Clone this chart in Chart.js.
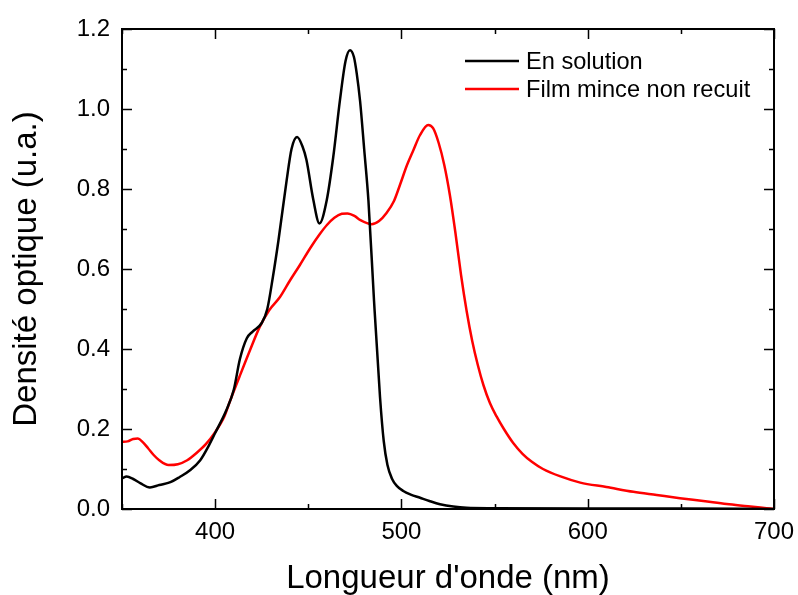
<!DOCTYPE html>
<html>
<head>
<meta charset="utf-8">
<script src="https://cdn.jsdelivr.net/npm/chart.js@4"></script>
<style>
  html, body { margin: 0; padding: 0; background: #fff; }
  #wrap { width: 798px; height: 595px; }
</style>
</head>
<body>
<div id="wrap"><canvas id="spectre" width="798" height="595"></canvas></div>
<script>
// ------------------- DONNEES -------------------
const seriesNames = ["En solution", "Film mince non recuit"];
const seriesColors = ["#000000", "#ff0000"];

// En solution (longueur d'onde en nm, densité optique)
const wlSolution = [350, 352.5, 356, 360, 365, 370, 376, 381, 386.5, 392, 397, 400, 406, 410, 413.3, 417, 420, 425, 428, 431, 434, 438.4, 441, 444, 447, 449, 452.7, 456, 459.9, 463.4, 467, 470, 472.4, 474.5, 476, 477.8, 480, 482.3, 485.3, 488.5, 490.5, 492.5, 495, 497.5, 501, 505, 510, 515, 520.7, 527.8, 535, 550, 600, 650, 700];
const doSolution = [0.077, 0.081, 0.075, 0.064, 0.054, 0.06, 0.067, 0.08, 0.097, 0.122, 0.162, 0.19, 0.247, 0.298, 0.375, 0.427, 0.443, 0.465, 0.5, 0.58, 0.672, 0.822, 0.9, 0.93, 0.905, 0.873, 0.773, 0.714, 0.772, 0.88, 1.022, 1.12, 1.147, 1.13, 1.089, 1.02, 0.9, 0.77, 0.52, 0.28, 0.17, 0.11, 0.075, 0.058, 0.045, 0.036, 0.028, 0.02, 0.012, 0.006, 0.003, 0.002, 0.001, 0.001, 0.0];

// Film mince non recuit
const wlFilm = [350, 353, 356, 358.5, 361, 364, 367, 370, 375, 380, 385, 390, 395, 400, 405, 408, 413, 418.7, 424, 429, 434.8, 440, 445.5, 451, 456.3, 460, 464, 468, 471, 475, 478, 484, 488, 492, 496, 499.2, 503, 506.4, 510, 514.4, 517, 520, 523, 526, 529, 532, 535, 538, 541, 544, 547.5, 551, 555, 560, 565, 570, 576, 585, 596, 610, 624.5, 637, 649.5, 662, 674.6, 686, 696, 700];
const doFilm = [0.168, 0.169, 0.175, 0.176, 0.168, 0.152, 0.135, 0.122, 0.11, 0.112, 0.122, 0.14, 0.162, 0.192, 0.232, 0.27, 0.33, 0.397, 0.456, 0.497, 0.53, 0.57, 0.61, 0.652, 0.688, 0.71, 0.728, 0.738, 0.739, 0.732, 0.722, 0.712, 0.72, 0.74, 0.77, 0.81, 0.86, 0.897, 0.935, 0.96, 0.952, 0.915, 0.86, 0.785, 0.69, 0.585, 0.495, 0.42, 0.36, 0.31, 0.265, 0.232, 0.2, 0.165, 0.138, 0.118, 0.1, 0.082, 0.066, 0.055, 0.043, 0.035, 0.027, 0.02, 0.0125, 0.007, 0.002, 0.0];

const xMin = 350, xMax = 700, xStep = 50, xLabelStep = 100;
const yMin = 0, yMax = 1.2, yStep = 0.1;

const xTitle = "Longueur d'onde (nm)";
const yTitle = "Densité optique (u.a.)";

// ------------------- OUTILS -------------------
const FONT = "'Liberation Sans', Arial, sans-serif";

function toPoints(xs, ys){
  return xs.map((x,i)=>({x:x, y:ys[i]}));
}

// cadre + graduations vers l'intérieur sur les 4 côtés
const cadrePlugin = {
  id: 'cadre',
  afterDatasetsDraw(chart){
    const {ctx, chartArea: a, scales:{x, y}} = chart;
    ctx.save();
    ctx.strokeStyle = '#000';
    ctx.lineWidth = 2;
    ctx.strokeRect(a.left, a.top, a.right - a.left, a.bottom - a.top);
    ctx.lineWidth = 1.5;
    ctx.beginPath();
    x.ticks.forEach(t=>{
      const px = Math.round(x.getPixelForValue(t.value)) + 0.5;
      const len = (Math.round(t.value) % xLabelStep === 0) ? 10 : 5;
      ctx.moveTo(px, a.bottom); ctx.lineTo(px, a.bottom - len);
      ctx.moveTo(px, a.top); ctx.lineTo(px, a.top + len);
    });
    y.ticks.forEach(t=>{
      const py = Math.round(y.getPixelForValue(t.value)) + 0.5;
      const len = (Math.round(t.value*10) % 2 === 0) ? 10 : 5;
      ctx.moveTo(a.left, py); ctx.lineTo(a.left + len, py);
      ctx.moveTo(a.right, py); ctx.lineTo(a.right - len, py);
    });
    ctx.stroke();
    ctx.restore();
  }
};

// légende dans la zone de tracé, en haut à droite
const legendePlugin = {
  id: 'legende',
  afterDatasetsDraw(chart){
    const {ctx} = chart;
    const x0 = 465, x1 = 519, tx = 526;
    const rows = [61, 89];
    ctx.save();
    ctx.font = "23.6px " + FONT;
    ctx.textBaseline = 'middle';
    ctx.textAlign = 'left';
    chart.data.datasets.forEach((ds,i)=>{
      ctx.strokeStyle = ds.borderColor;
      ctx.lineWidth = 2.5;
      ctx.beginPath();
      ctx.moveTo(x0, rows[i]); ctx.lineTo(x1, rows[i]);
      ctx.stroke();
      ctx.fillStyle = '#000';
      ctx.fillText(ds.label, tx, rows[i] + 1);
    });
    ctx.restore();
  }
};

// ------------------- GRAPHIQUE -------------------
const ctx = document.getElementById("spectre").getContext("2d");

new Chart(ctx, {
  type: 'line',
  data: {
    datasets: [
      {
        label: seriesNames[0],
        data: toPoints(wlSolution, doSolution),
        borderColor: seriesColors[0],
        borderWidth: 2.5,
        pointRadius: 0,
        cubicInterpolationMode: 'monotone',
        fill: false
      },
      {
        label: seriesNames[1],
        data: toPoints(wlFilm, doFilm),
        borderColor: seriesColors[1],
        borderWidth: 2.5,
        pointRadius: 0,
        cubicInterpolationMode: 'monotone',
        fill: false
      }
    ]
  },
  options: {
    responsive: false,
    animation: false,
    events: [],
    layout: { padding: { top: 29, right: 24, left: 0, bottom: 0 } },
    plugins: {
      legend: { display: false },
      tooltip: { enabled: false }
    },
    scales: {
      x: {
        type: 'linear',
        min: xMin, max: xMax,
        grid: { display: false, drawTicks: false },
        border: { display: false },
        ticks: {
          stepSize: xStep,
          autoSkip: false,
          maxRotation: 0,
          padding: 9,
          color: '#000',
          font: { family: FONT, size: 24 },
          callback: v => (Math.round(v) % xLabelStep === 0 && v > xMin) ? String(v) : ''
        },
        title: {
          display: true,
          text: xTitle,
          color: '#000',
          font: { family: FONT, size: 33, lineHeight: 1 },
          padding: 0
        },
        afterFit: s => { s.height = 86; s.paddingLeft = 0; s.paddingRight = 0; }
      },
      y: {
        min: yMin, max: yMax,
        grid: { display: false, drawTicks: false },
        border: { display: false },
        ticks: {
          stepSize: yStep,
          autoSkip: false,
          padding: 12,
          color: '#000',
          font: { family: FONT, size: 24 },
          callback: v => (Math.round(v*10) % 2 === 0) ? v.toFixed(1) : ''
        },
        title: {
          display: true,
          text: yTitle,
          color: '#000',
          font: { family: FONT, size: 33, lineHeight: 1 },
          padding: { top: 10, bottom: 0 }
        },
        afterFit: s => { s.width = 122; s.paddingTop = 0; s.paddingBottom = 0; }
      }
    }
  },
  plugins: [cadrePlugin, legendePlugin]
});
</script>
</body>
</html>
